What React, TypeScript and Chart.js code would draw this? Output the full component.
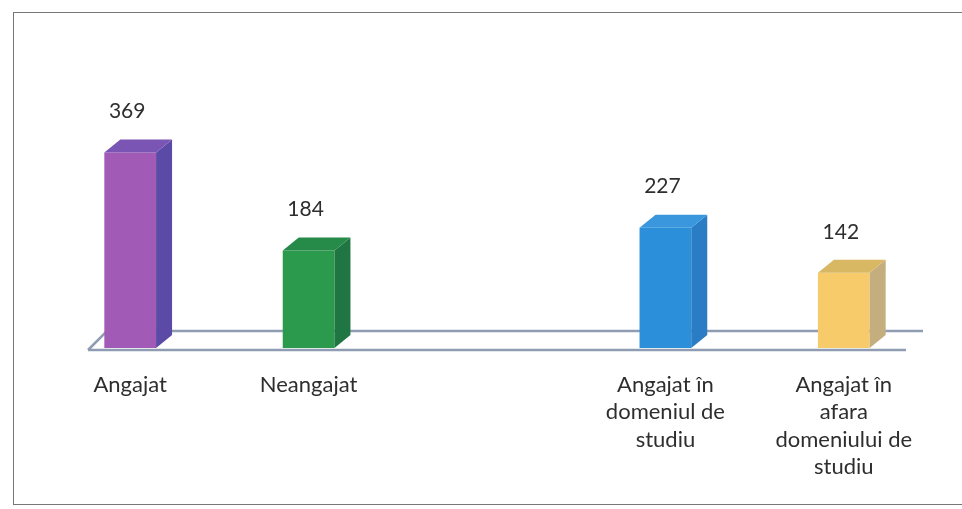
import React, { useEffect, useRef } from "react";
import { Chart, registerables } from "chart.js";

Chart.register(...registerables);

const categories: (string | string[])[] = [
  "Angajat",
  "Neangajat",
  "",
  ["Angajat în", "domeniul de", "studiu"],
  ["Angajat în", "afara", "domeniului de", "studiu"],
];
const values: (number | null)[] = [369, 184, null, 227, 142];
const frontColors = ["#a15ab6", "#2c9a4c", "#ffffff", "#2b90d9", "#f7ca6a"];
const sideColors = ["#5b4aa6", "#1f7643", "#ffffff", "#2a7cc4", "#c5ae7e"];
const topColors = ["#7a55b4", "#268a48", "#ffffff", "#3a97de", "#d9b864"];
const yMax = 500;

const FONT = "Lato, 'Open Sans', sans-serif";

const bars3d = {
  id: "bars3d",
  beforeDatasetsDraw(chart: any) {
    const ctx = chart.ctx;
    const area = chart.chartArea;
    const base = chart.scales.y.getPixelForValue(0);
    const left = area.left + 47;
    const right = area.right - 27;
    const depthX = 19;
    const depthY = 19;
    ctx.save();
    ctx.strokeStyle = "#8f9db3";
    ctx.lineWidth = 2.5;
    ctx.beginPath();
    ctx.moveTo(left, base + 2);
    ctx.lineTo(right, base + 2);
    ctx.moveTo(left, base + 2);
    ctx.lineTo(left + depthX, base + 2 - depthY);
    ctx.lineTo(right + 17, base + 2 - depthY);
    ctx.stroke();
    ctx.restore();
  },
  afterDatasetsDraw(chart: any) {
    const ctx = chart.ctx;
    const meta = chart.getDatasetMeta(0);
    const dx = 16;
    const dy = 13;
    ctx.save();
    meta.data.forEach((bar: any, i: number) => {
      const v = values[i];
      if (v === null || v === undefined) return;
      const { x, y, base, width } = bar.getProps(["x", "y", "base", "width"], true);
      const l = x - width / 2;
      const r = x + width / 2;
      ctx.fillStyle = sideColors[i];
      ctx.beginPath();
      ctx.moveTo(r, y);
      ctx.lineTo(r + dx, y - dy);
      ctx.lineTo(r + dx, base - dy);
      ctx.lineTo(r, base);
      ctx.closePath();
      ctx.fill();
      ctx.fillStyle = topColors[i];
      ctx.beginPath();
      ctx.moveTo(l, y);
      ctx.lineTo(l + dx, y - dy);
      ctx.lineTo(r + dx, y - dy);
      ctx.lineTo(r, y);
      ctx.closePath();
      ctx.fill();
      ctx.fillStyle = "#2e2e2e";
      ctx.font = `21px ${FONT}`;
      ctx.textAlign = "center";
      ctx.textBaseline = "middle";
      ctx.fillText(String(v), x - 3, y - 41);
    });
    ctx.restore();
  },
};

export default function App() {
  const ref = useRef<HTMLCanvasElement | null>(null);
  useEffect(() => {
    if (!ref.current) return;
    const chart = new Chart(ref.current, {
      type: "bar",
      data: {
        labels: categories,
        datasets: [
          {
            data: values,
            backgroundColor: frontColors,
            borderWidth: 0,
            barPercentage: 0.58,
            categoryPercentage: 0.5,
          },
        ],
      },
      options: {
        animation: false,
        responsive: false,
        layout: { padding: { left: 41, right: 29, top: 83, bottom: 5 } },
        plugins: { legend: { display: false }, tooltip: { enabled: false } },
        scales: {
          y: { display: false, min: 0, max: yMax },
          x: {
            grid: { display: false, drawTicks: false },
            border: { display: false },
            ticks: {
              padding: 23,
              color: "#2e2e2e",
              maxRotation: 0,
              autoSkip: false,
              font: { family: FONT, size: 22, lineHeight: 1.25 },
            },
          },
        },
      },
      plugins: [bars3d],
    });
    return () => chart.destroy();
  }, []);
  return (
    <div
      style={{
        position: "fixed",
        left: 0,
        top: 0,
        width: 962,
        height: 509,
        background: "#fff",
        overflow: "hidden",
      }}
    >
      <div
        style={{
          position: "absolute",
          left: 13,
          top: 12,
          width: 1000,
          height: 491,
          borderLeft: "1.5px solid #777",
          borderTop: "1.5px solid #777",
          borderBottom: "1.5px solid #777",
        }}
      />
      <canvas ref={ref} width={962} height={509} style={{ position: "absolute", left: 0, top: 0 }} />
    </div>
  );
}
